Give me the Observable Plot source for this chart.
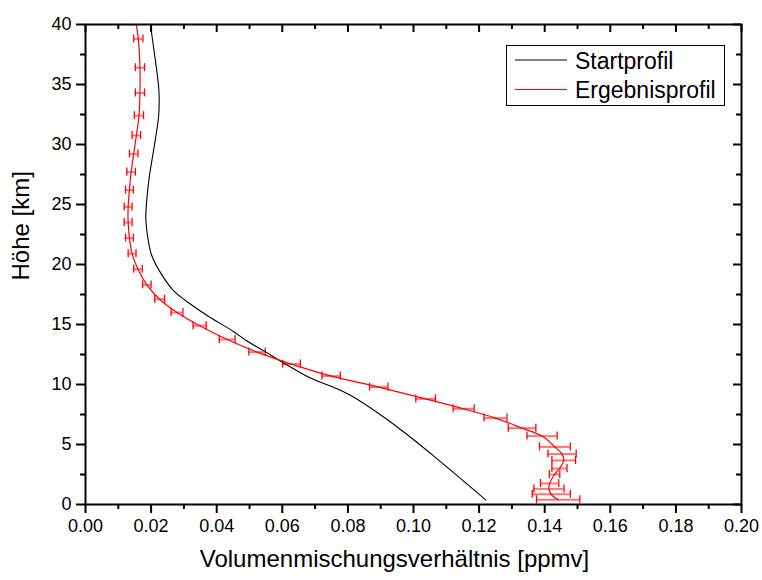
<!DOCTYPE html>
<html>
<head>
<meta charset="utf-8">
<script src="https://cdn.jsdelivr.net/npm/d3@7"></script>
<script src="https://cdn.jsdelivr.net/npm/@observablehq/plot@0.6"></script>
<style>
  body { margin: 0; background: #fff; font-family: "Liberation Sans", Arial, sans-serif; }
  #wrap { position: relative; width: 762px; height: 580px; }
  #legend { position: absolute; left: 506px; top: 45px; }
</style>
</head>
<body>
<div id="wrap"><div id="chart"></div><div id="legend"></div></div>
<script>
// Startprofil (black)
const startHoehe = [40, 38, 36, 34.4, 32.4, 29.6, 27.4, 25.75, 23.8, 21.9, 20.75, 19.3, 17.8, 16.9, 15.75, 14.4, 13.67, 12.8, 11.86, 10.6, 9.64, 8.94, 7.27, 5.6, 3.8, 0.39];
const startWert  = [0.0198, 0.0208, 0.0218, 0.0224, 0.0223, 0.0208, 0.0195, 0.0188, 0.0184, 0.0192, 0.0202, 0.0229, 0.0269, 0.0310, 0.0371, 0.0452, 0.0490, 0.0544, 0.0600, 0.0681, 0.0767, 0.0818, 0.0910, 0.0991, 0.1072, 0.1220];

// Ergebnisprofil (red) with error bars (NaN = no error bar)
const ergHoehe  = [40, 38.8, 36.4, 34.3, 32.4, 30.75, 29.2, 27.7, 26.2, 24.8, 23.5, 22.2, 20.9, 19.6, 18.3, 17.1, 16.0, 14.9, 13.75, 12.7, 11.7, 10.7, 9.78, 8.8, 7.97, 7.2, 6.36, 5.7, 4.8, 4.2, 3.67, 3.0, 2.5, 1.75, 1.3, 0.85, 0.4];
const ergWert   = [0.0155, 0.0161, 0.0166, 0.0166, 0.0163, 0.0155, 0.0147, 0.0139, 0.0134, 0.0130, 0.0130, 0.0134, 0.0142, 0.0160, 0.0187, 0.0226, 0.0279, 0.0348, 0.0432, 0.0523, 0.0628, 0.0749, 0.0894, 0.1037, 0.1153, 0.1250, 0.1331, 0.1392, 0.1431, 0.1453, 0.1458, 0.1445, 0.1430, 0.1415, 0.1413, 0.1420, 0.1441];
const ergFehler = [NaN, 0.0014, 0.0014, 0.0014, 0.0014, 0.0013, 0.0013, 0.0013, 0.0012, 0.0012, 0.0012, 0.0012, 0.0012, 0.0013, 0.0013, 0.0015, 0.0018, 0.0020, 0.0024, 0.0025, 0.0027, 0.0028, 0.0028, 0.0030, 0.0032, 0.0035, 0.0042, 0.0046, 0.0047, 0.0043, 0.0036, 0.0023, 0.0016, 0.0028, 0.0046, 0.0058, 0.0066];

const xTicks = [0, 0.02, 0.04, 0.06, 0.08, 0.10, 0.12, 0.14, 0.16, 0.18, 0.20];
const xMinor = [0.01, 0.03, 0.05, 0.07, 0.09, 0.11, 0.13, 0.15, 0.17, 0.19];
const yTicks = [0, 5, 10, 15, 20, 25, 30, 35, 40];
const yMinor = [2.5, 7.5, 12.5, 17.5, 22.5, 27.5, 32.5, 37.5];

const xTitle = "Volumenmischungsverhältnis [ppmv]";
const yTitle = "Höhe [km]";
const seriesNames = ["Startprofil", "Ergebnisprofil"];
const seriesColors = ["#000000", "#ff0000"];

const start = startHoehe.map((h, i) => ({h, v: startWert[i]}));
const erg = ergHoehe.map((h, i) => ({h, v: ergWert[i], e: ergFehler[i]}));
const bars = erg.filter(d => !isNaN(d.e));

const W = 762, H = 580, mL = 85, mR = 21, mT = 24, mB = 76;
const innerW = W - mL - mR, innerH = H - mT - mB;
const font = "Liberation Sans, Arial, sans-serif";

const chart = Plot.plot({
  width: W, height: H,
  marginLeft: mL, marginRight: mR, marginTop: mT, marginBottom: mB,
  style: {fontFamily: font, background: "#fff", color: "#000"},
  x: {domain: [0, 0.2]},
  y: {domain: [0, 40]},
  marks: [
    // error bars
    Plot.ruleY(bars, {y: "h", x1: d => d.v - d.e, x2: d => d.v + d.e, stroke: seriesColors[1], strokeOpacity: 0.55, strokeWidth: 2}),
    Plot.ruleX(bars, {x: d => d.v - d.e, y1: "h", y2: "h", insetTop: -4, insetBottom: -4, stroke: seriesColors[1], strokeWidth: 1.3}),
    Plot.ruleX(bars, {x: d => d.v + d.e, y1: "h", y2: "h", insetTop: -4, insetBottom: -4, stroke: seriesColors[1], strokeWidth: 1.3}),
    Plot.line(start, {x: "v", y: "h", stroke: seriesColors[0], strokeWidth: 1.1, curve: "catmull-rom"}),
    Plot.line(erg, {x: "v", y: "h", stroke: seriesColors[1], strokeWidth: 1.2, curve: "catmull-rom"}),
    // axes
    Plot.axisX({anchor: "bottom", ticks: xTicks, tickSize: 9, tickPadding: 6, strokeWidth: 2, fontSize: 18, tickFormat: d3.format(".2f"), label: null}),
    Plot.axisX({anchor: "bottom", ticks: xMinor, tickSize: 5, strokeWidth: 2, text: null, label: null}),
    Plot.axisY({anchor: "left", ticks: yTicks, tickSize: 9, tickPadding: 5, strokeWidth: 2, fontSize: 18, label: null}),
    Plot.axisY({anchor: "left", ticks: yMinor, tickSize: 5, strokeWidth: 2, text: null, label: null}),
    // inward ticks on top and right
    Plot.tickX(xTicks, {x: d => d, insetBottom: innerH - 8, strokeWidth: 2}),
    Plot.tickX(xMinor, {x: d => d, insetBottom: innerH - 5, strokeWidth: 2}),
    Plot.tickY(yTicks, {y: d => d, insetLeft: innerW - 8, strokeWidth: 2}),
    Plot.tickY(yMinor, {y: d => d, insetLeft: innerW - 5, strokeWidth: 2}),
    Plot.frame({stroke: "#000", strokeWidth: 2}),
    // titles
    Plot.text([xTitle], {frameAnchor: "bottom", text: d => d, dx: -19, dy: 62, fontSize: 24, fill: "#000"}),
    Plot.text([yTitle], {frameAnchor: "left", text: d => d, rotate: -90, dx: -64, dy: 16, fontSize: 24, fill: "#000"})
  ]
});
document.getElementById("chart").appendChild(chart);

// legend
const lg = d3.select("#legend").append("svg").attr("width", 220).attr("height", 62);
lg.append("rect").attr("x", 0.5).attr("y", 0.5).attr("width", 218).attr("height", 60)
  .attr("fill", "#fff").attr("stroke", "#000").attr("stroke-width", 1);
seriesNames.forEach((name, i) => {
  const yy = 15 + i * 29.5;
  lg.append("line").attr("x1", 9).attr("x2", 61).attr("y1", yy).attr("y2", yy)
    .attr("stroke", seriesColors[i]).attr("stroke-width", 1.1);
  lg.append("text").attr("x", 69).attr("y", yy + 8.5).text(name)
    .attr("font-size", 23).attr("font-family", font).attr("fill", "#000");
});
</script>
</body>
</html>
